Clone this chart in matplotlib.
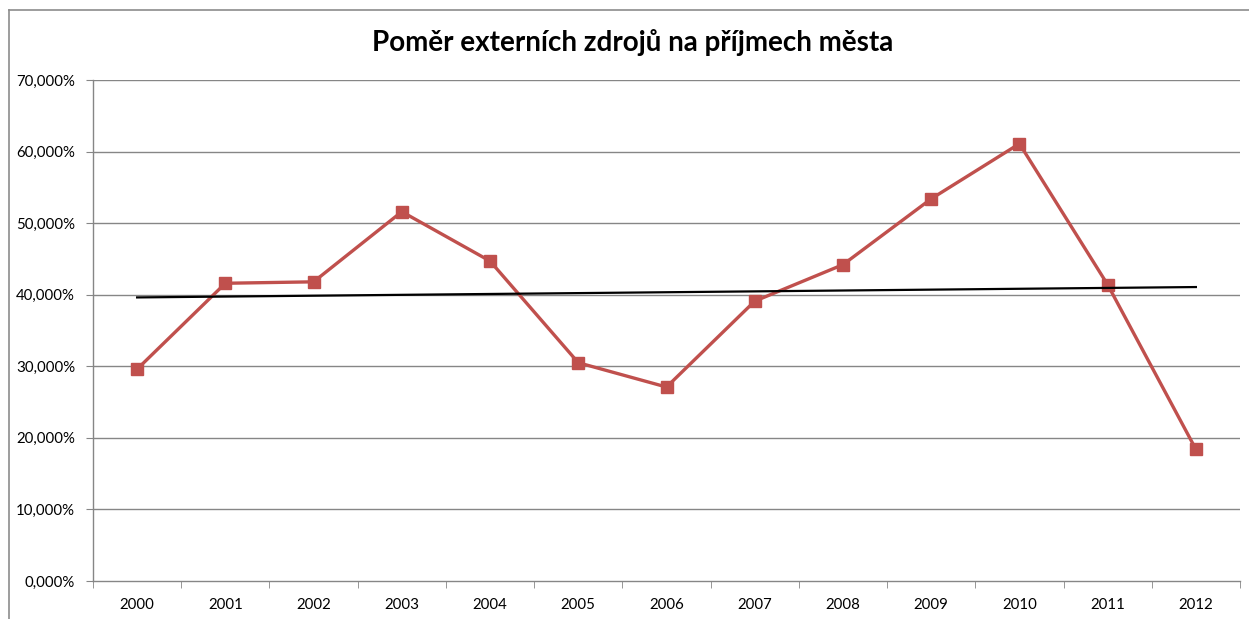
import matplotlib
matplotlib.use("Agg")
import matplotlib.pyplot as plt
from matplotlib.lines import Line2D
import numpy as np

years = ["2000", "2001", "2002", "2003", "2004", "2005", "2006",
         "2007", "2008", "2009", "2010", "2011", "2012"]
values = [29.6, 41.6, 41.8, 51.6, 44.7, 30.5, 27.1,
          39.1, 44.2, 53.4, 61.1, 41.4, 18.4]
yticks = [0, 10, 20, 30, 40, 50, 60, 70]
title = "Poměr externích zdrojů na příjmech města"

plt.rcParams['font.family'] = ['Lato', 'DejaVu Sans']

W, H = 1249, 619
fig = plt.figure(figsize=(W / 100, H / 100), dpi=100)
ax = fig.add_axes([93 / W, 1 - 581 / H, (1240 - 93) / W, (581 - 80) / H])

x = np.arange(len(years))
grid_c = "#868686"
ax.set_ylim(0, 70)
ax.set_xlim(-0.5, len(years) - 0.5)
ax.set_yticks(yticks)
ax.set_yticklabels([f"{v:.3f}%".replace(".", ",") for v in yticks], fontsize=10.8)
for v in yticks[1:]:
    ax.axhline(v, color=grid_c, lw=1.0, zorder=0)

ax.plot(x, values, color="#C0504D", lw=2.4, marker="s", markersize=8,
        markeredgecolor="#C0504D", zorder=3)

coef = np.polyfit(x, values, 1)
ax.plot(x, np.polyval(coef, x), color="black", lw=1.6, zorder=4)

ax.set_xticks(x)
ax.set_xticklabels(years, fontsize=10.8)
ax.set_xticks(np.arange(-0.5, len(years)), minor=True)
ax.tick_params(axis="x", which="major", length=0, pad=12)
ax.tick_params(axis="x", which="minor", length=5, color=grid_c, direction="out")
ax.tick_params(axis="y", length=5, color=grid_c, direction="out", pad=8)

for s in ["top", "right"]:
    ax.spines[s].set_visible(False)
for s in ["left", "bottom"]:
    ax.spines[s].set_color(grid_c)
    ax.spines[s].set_linewidth(1.0)

fig.text(633 / W, 1 - 42 / H, title, ha="center", va="center",
         fontsize=20, fontweight="bold")

# chart border
fig.add_artist(Line2D([8.5 / W, 1], [1 - 9.5 / H, 1 - 9.5 / H],
                      transform=fig.transFigure, color="#8c8c8c", lw=1.2))
fig.add_artist(Line2D([8.5 / W, 8.5 / W], [0, 1 - 9.5 / H],
                      transform=fig.transFigure, color="#8c8c8c", lw=1.2))

fig.savefig("out.png", dpi=100)
